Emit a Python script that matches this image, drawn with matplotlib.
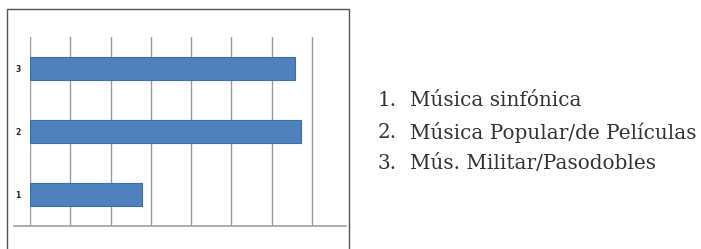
import matplotlib.pyplot as plt
from matplotlib.patches import Rectangle

# data (gridline units)
categories = ['1', '2', '3']
values = [2.78, 6.72, 6.58]
legendNums = ['1.', '2.', '3.']
legendLabels = ['Música sinfónica', 'Música Popular/de Películas', 'Mús. Militar/Pasodobles']

W, H = 701, 249
fig = plt.figure(figsize=(W / 100, H / 100), dpi=100)

# outer frame round the chart (runs past the bottom of the image)
fig.patches.append(Rectangle((7 / W, -0.1), (349 - 7) / W, 1.1 - 9 / H,
                             transform=fig.transFigure, fill=False,
                             edgecolor='#555555', linewidth=1.0))

ax = fig.add_axes([30 / W, 1 - 226 / H, (316 - 30) / W, (226 - 37) / H])
yPos = [1, 2, 3]
ax.barh(yPos, values, height=0.36, left=0, color='#4F81BD',
        edgecolor='#3C6EAC', linewidth=0.8, zorder=3)

ax.set_xlim(0, 7.1)
ax.set_ylim(0.5, 3.5)
ax.set_xticks(range(0, 8))
ax.set_xticklabels([])
ax.grid(axis='x', color='#9a9a9a', linewidth=1.0, zorder=0)
ax.set_yticks(yPos)
ax.set_yticklabels(categories, fontsize=5.5, fontweight='bold', color='#222222')
ax.tick_params(length=0, pad=7)
for s in ax.spines.values():
    s.set_visible(False)

# horizontal axis line, wider than the plot area
ax.plot([-0.4, 7.84], [0.5, 0.5], color='#a0a0a0', linewidth=1.2,
        clip_on=False, zorder=4)

# legend text on the right
for i, (n, lab) in enumerate(zip(legendNums, legendLabels)):
    y = 1 - (101 + i * 31) / H
    fig.text(378 / W, y, n, fontsize=14.4, family='DejaVu Serif',
             color='#333333', va='center')
    fig.text(410 / W, y, lab, fontsize=14.4, family='DejaVu Serif',
             color='#333333', va='center')

fig.savefig('out.png', dpi=100)
